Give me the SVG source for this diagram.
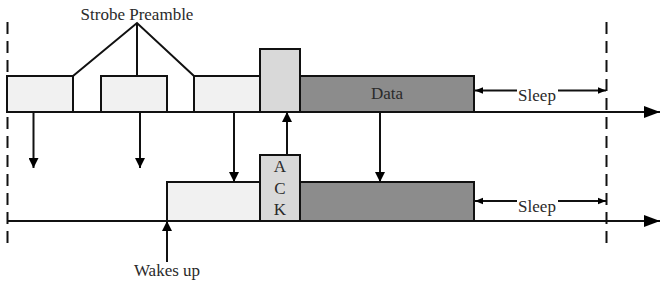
<svg xmlns="http://www.w3.org/2000/svg" width="664" height="285" viewBox="0 0 664 285">
<defs>
<marker id="ah" viewBox="0 0 10 10" refX="10" refY="5" markerWidth="10" markerHeight="10" markerUnits="userSpaceOnUse" orient="auto"><path d="M0,0 L10,5 L0,10 z" fill="#000"/></marker>
<marker id="ahs" viewBox="0 0 10 10" refX="10" refY="5" markerWidth="8" markerHeight="8" markerUnits="userSpaceOnUse" orient="auto-start-reverse"><path d="M0,1 L10,5 L0,9 z" fill="#000"/></marker>
<marker id="axh" viewBox="0 0 10 10" refX="10" refY="5" markerWidth="16" markerHeight="12" markerUnits="userSpaceOnUse" orient="auto" preserveAspectRatio="none"><path d="M0,0 L10,5 L0,10 z" fill="#000"/></marker>
</defs>
<style>
text{font-family:"Liberation Serif","Times New Roman",serif;fill:#2a2a2a;}
.lbl{font-size:17px;}
.box{stroke:#111;stroke-width:2;}
.light{fill:#f1f1f1;}
.ack{fill:#d9d9d9;}
.data{fill:#8c8c8c;}
.ln{stroke:#111;stroke-width:2;fill:none;}
.dash{stroke:#111;stroke-width:2;stroke-dasharray:12 7;fill:none;}
</style>
<rect width="664" height="285" fill="#fff"/>
<g id="boundaries">
<line class="dash" x1="7.5" y1="22" x2="7.5" y2="250"/>
<line class="dash" x1="606.5" y1="22" x2="606.5" y2="250"/>
</g>
<g id="sender-boxes">
<rect id="strobe1" class="box light" x="7" y="76" width="66" height="36"/>
<rect id="strobe2" class="box light" x="101" y="76" width="66" height="36"/>
<rect id="strobe3" class="box light" x="194" y="76" width="66" height="36"/>
<rect id="ack-top" class="box ack" x="260" y="49" width="40" height="63"/>
<g id="data-top"><rect class="box data" x="300" y="76" width="174" height="36"/><text class="lbl" x="387" y="99" text-anchor="middle">Data</text></g>
</g>
<g id="receiver-boxes">
<rect id="listen" class="box light" x="167" y="182" width="93" height="39"/>
<g id="ack-bottom"><rect class="box ack" x="260" y="155" width="40" height="66"/>
<text class="lbl" x="280" y="172" text-anchor="middle">A</text>
<text class="lbl" x="280" y="194" text-anchor="middle">C</text>
<text class="lbl" x="280" y="215" text-anchor="middle">K</text></g>
<rect id="data-bottom" class="box data" x="300" y="182" width="174" height="39"/>
</g>
<g id="strobe-label">
<text class="lbl" x="137" y="20" text-anchor="middle">Strobe Preamble</text>
</g>
<g id="connectors">
<line class="ln" x1="7" y1="112" x2="660" y2="112" marker-end="url(#axh)"/>
<line class="ln" x1="7" y1="221" x2="660" y2="221" marker-end="url(#axh)"/>
<polyline class="ln" points="73,76 137,23 194,76"/>
<line class="ln" x1="137" y1="23" x2="137" y2="76"/>
<line class="ln" x1="33.5" y1="112" x2="33.5" y2="168" marker-end="url(#ah)"/>
<line class="ln" x1="140" y1="112" x2="140" y2="168" marker-end="url(#ah)"/>
<line class="ln" x1="234" y1="112" x2="234" y2="182" marker-end="url(#ah)"/>
<line class="ln" x1="287" y1="155" x2="287" y2="112" marker-end="url(#ah)"/>
<line class="ln" x1="380" y1="112" x2="380" y2="182" marker-end="url(#ah)"/>
<line class="ln" x1="167" y1="262" x2="167" y2="221" marker-end="url(#ah)"/>
<line class="ln" x1="517" y1="90.5" x2="475" y2="90.5" marker-end="url(#ahs)"/>
<line class="ln" x1="558" y1="90.5" x2="606" y2="90.5" marker-end="url(#ahs)"/>
<line class="ln" x1="517" y1="201" x2="475" y2="201" marker-end="url(#ahs)"/>
<line class="ln" x1="558" y1="201" x2="606" y2="201" marker-end="url(#ahs)"/>
</g>
<g id="labels">
<text class="lbl" x="537" y="101" text-anchor="middle">Sleep</text>
<text class="lbl" x="537" y="212" text-anchor="middle">Sleep</text>
<text class="lbl" x="167" y="276" text-anchor="middle">Wakes up</text>
</g>
</svg>
